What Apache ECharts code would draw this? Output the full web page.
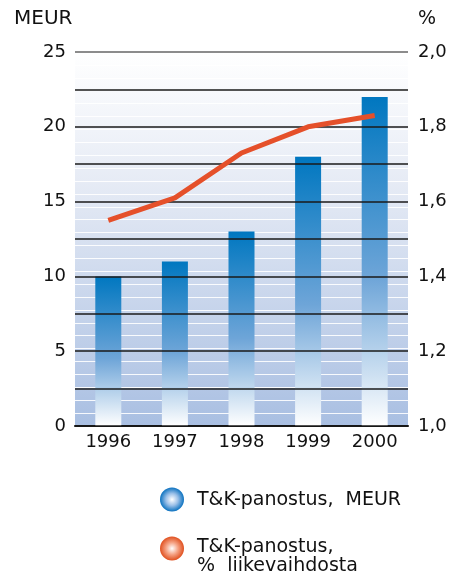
<!DOCTYPE html>
<html>
<head>
<meta charset="utf-8">
<script src="https://cdn.jsdelivr.net/npm/echarts@6/dist/echarts.min.js"></script>
<style>html,body{margin:0;padding:0;background:#fff}#c{width:462px;height:577px}</style>
</head>
<body>
<div id="c"></div>
<script>
const categories = ['1996', '1997', '1998', '1999', '2000'];
const rdMeur = [10, 11, 13, 18, 22];
const rdPercent = [1.55, 1.61, 1.73, 1.80, 1.83];
const leftTicks = [0, 5, 10, 15, 20, 25];
const rightTicks = [1.0, 1.2, 1.4, 1.6, 1.8, 2.0];
const legendLabels = ['T&K-panostus,  MEUR', 'T&K-panostus,\n%  liikevaihdosta'];
const unitLeft = 'MEUR';
const unitRight = '%';

const FONT = '"DejaVu Sans", sans-serif';
const chart = echarts.init(document.getElementById('c'), null, {renderer: 'canvas'});

const darkColors = [];
for (let i = 0; i < 11; i++) darkColors.push(i === 10 ? '#666666' : '#1a1a1a');

const legendLines2 = legendLabels[1].split('\n');

chart.setOption({
  animation: false,
  grid: {
    left: 75, right: 54, top: 52, bottom: 151,
    show: true, borderWidth: 0,
    backgroundColor: {
      type: 'linear', x: 0, y: 0, x2: 0, y2: 1,
      colorStops: [{offset: 0, color: '#ffffff'}, {offset: 0.35, color: '#e6ebf5'}, {offset: 1, color: '#a9bfe2'}]
    }
  },
  xAxis: {
    type: 'category', data: categories,
    axisLine: {lineStyle: {color: '#111', width: 2}},
    axisTick: {show: false},
    axisLabel: {fontFamily: FONT, fontSize: 18, color: '#111', margin: 7}
  },
  yAxis: [
    {
      type: 'value', position: 'left', min: 0, max: 25, interval: 2.5, z: 3,
      axisLine: {show: false}, axisTick: {show: false},
      axisLabel: {
        fontFamily: FONT, fontSize: 18, color: '#111', margin: 9,
        formatter: v => leftTicks.indexOf(v) >= 0 ? String(v) : ''
      },
      splitLine: {lineStyle: {color: darkColors, width: 1.6}}
    },
    {
      type: 'value', position: 'right', min: 1, max: 2, interval: 0.2,
      axisLine: {show: false}, axisTick: {show: false},
      axisLabel: {
        fontFamily: FONT, fontSize: 18, color: '#111', margin: 10,
        formatter: v => {
          const t = rightTicks.find(r => Math.abs(r - v) < 1e-6);
          return t === undefined ? '' : t.toFixed(1).replace('.', ',');
        }
      },
      splitLine: {show: false}
    },
    {
      type: 'value', position: 'left', min: 0, max: 29, interval: 1, z: 0,
      axisLine: {show: false}, axisTick: {show: false}, axisLabel: {show: false},
      splitLine: {lineStyle: {color: 'rgba(255,255,255,0.9)', width: 1}}
    }
  ],
  series: [
    {
      type: 'bar', data: rdMeur, yAxisIndex: 0, barWidth: 26, z: 2,
      itemStyle: {
        color: {
          type: 'linear', x: 0, y: 0, x2: 0, y2: 1,
          colorStops: [{offset: 0, color: '#0077c0'}, {offset: 0.55, color: '#6ea5d8'}, {offset: 1, color: '#ffffff'}]
        }
      }
    },
    {
      type: 'line', data: rdPercent, yAxisIndex: 1, z: 5,
      symbol: 'none', lineStyle: {color: '#e5502a', width: 5}
    }
  ],
  graphic: [
    {type: 'text', x: 14, y: 19, style: {text: unitLeft, font: '20px ' + FONT, fill: '#111', verticalAlign: 'middle'}},
    {type: 'text', x: 418, y: 19, style: {text: unitRight, font: '19px ' + FONT, fill: '#111', verticalAlign: 'middle'}},
    {type: 'circle', shape: {cx: 172, cy: 499.5, r: 12},
      style: {fill: {type: 'radial', x: 0.5, y: 0.5, r: 0.5, colorStops: [{offset: 0, color: '#ffffff'}, {offset: 0.5, color: '#9cc0e8'}, {offset: 1, color: '#0c72c0'}]}}},
    {type: 'circle', shape: {cx: 172, cy: 548.5, r: 12},
      style: {fill: {type: 'radial', x: 0.5, y: 0.5, r: 0.5, colorStops: [{offset: 0, color: '#ffffff'}, {offset: 0.5, color: '#f5a385'}, {offset: 1, color: '#e0501f'}]}}},
    {type: 'text', x: 197, y: 500, style: {text: legendLabels[0], font: '19px ' + FONT, fill: '#111', verticalAlign: 'middle'}},
    {type: 'text', x: 197, y: 547, style: {text: legendLines2[0], font: '19px ' + FONT, fill: '#111', verticalAlign: 'middle'}},
    {type: 'text', x: 197, y: 566.5, style: {text: legendLines2[1], font: '19px ' + FONT, fill: '#111', verticalAlign: 'middle'}}
  ]
});
</script>
</body>
</html>
